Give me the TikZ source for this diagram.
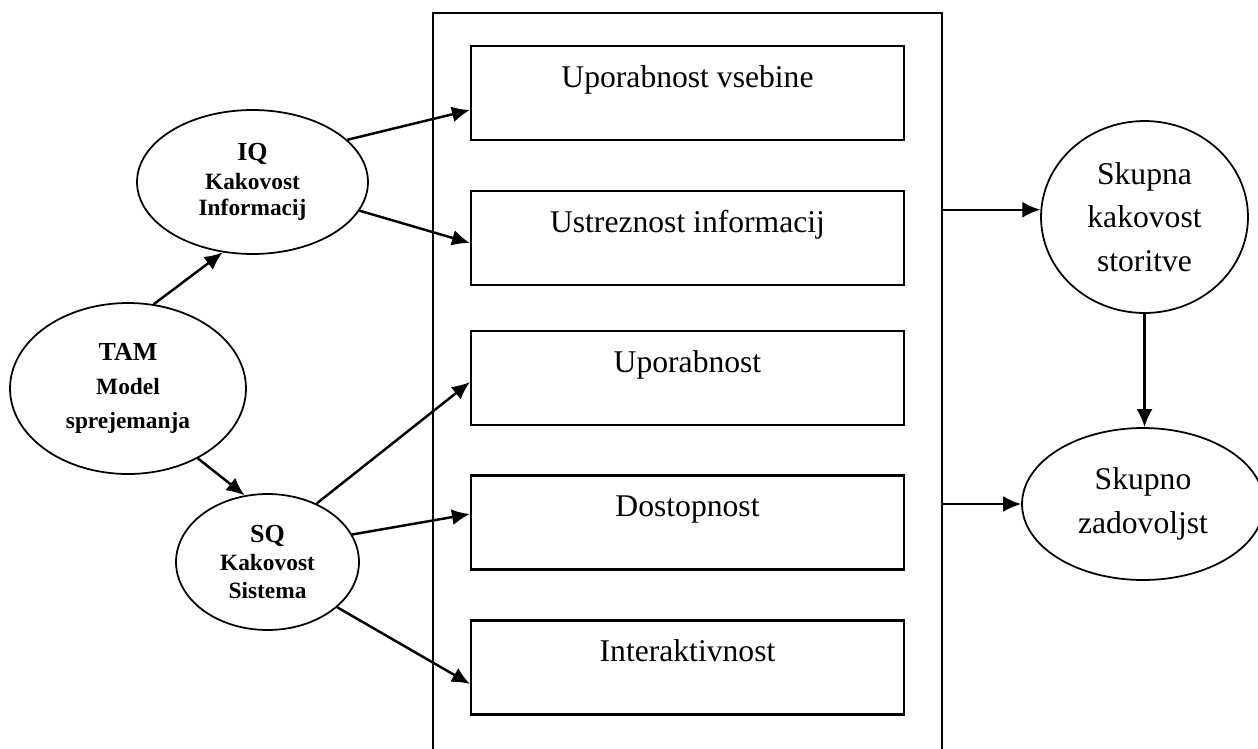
\documentclass[tikz,border=0pt]{standalone}
\usepackage{fontspec}
\setmainfont{Liberation Serif}
\usepackage{tikz}
\usetikzlibrary{arrows.meta,shapes.geometric}

\begin{document}
\begin{tikzpicture}[x=0.02cm, y=-0.02cm,
    arr/.style={-{Latex[length=3.6mm,width=3.2mm]}, line width=1.4pt},
    item/.style={draw, line width=1.2pt, inner sep=0pt, minimum width=8.66cm,
        text height=0.82cm, text depth=1.06cm, font=\fontsize{18}{22}\selectfont},
    src/.style={draw, ellipse, line width=1pt, inner sep=0pt, align=center},
    res/.style={draw, ellipse, line width=1pt, inner sep=0pt, align=center,
        font=\fontsize{18}{24.9}\selectfont}]
    \useasboundingbox (0,0) rectangle (1258,748);
    % frame round the five factors
    \node[draw, line width=0.75pt, minimum width=10.18cm, minimum height=15.74cm] (grp) at (687.5,406.5) {};
    % factors
    \node[item] (uv) at (687.5,93) {Uporabnost vsebine};
    \node[item] (ui) at (687.5,238) {Ustreznost informacij};
    \node[item] (up) at (687.5,378) {Uporabnost};
    \node[item] (do) at (687.5,522.5) {Dostopnost};
    \node[item] (in) at (687.5,667.5) {Interaktivnost};
    % models on the left
    \node[src, minimum width=4.72cm, minimum height=3.42cm, font=\bfseries\fontsize{13.3}{19.3}\selectfont] (tam) at (128,388.5)
        {{\fontsize{14.8}{19.3}\selectfont TAM}\\Model\\sprejemanja};
    \node[src, minimum width=4.62cm, minimum height=2.88cm, font=\bfseries\fontsize{13.3}{14.8}\selectfont] (iq) at (252.5,182)
        {{\fontsize{14.8}{14.8}\selectfont IQ}\\[2pt]Kakovost\\Informacij};
    \node[src, minimum width=3.66cm, minimum height=2.72cm, font=\bfseries\fontsize{13.3}{16}\selectfont] (sq) at (267.5,562)
        {{\fontsize{14.8}{16}\selectfont SQ}\\Kakovost\\Sistema};
    % results on the right
    \node[res, minimum width=4.14cm, minimum height=3.84cm] (sks) at (1144.5,217) {Skupna\\kakovost\\storitve};
    \node[res, minimum width=4.84cm, minimum height=3.04cm] (skz) at (1143,504) {Skupno\\zadovoljst};
    % arrows
    \draw[arr] (tam.73) -- (iq.-113);
    \draw[arr] (tam.-45) -- (sq.109);
    \draw[arr] (iq.24) -- ([yshift=-0.34cm]uv.west);
    \draw[arr] (iq.-15) -- ([yshift=-0.1cm]ui.west);
    \draw[arr] (sq.50) -- ([yshift=-0.08cm]up.west);
    \draw[arr] (sq.18) -- ([yshift=0.17cm]do.west);
    \draw[arr] (sq.-33) -- ([yshift=-0.33cm]in.west);
    \draw[arr] (grp.east |- sks.176) -- (sks.176);
    \draw[arr] (grp.east |- skz.west) -- (skz.west);
    \draw[arr] (sks.south) -- (sks.south |- skz.north);
\end{tikzpicture}
\end{document}
